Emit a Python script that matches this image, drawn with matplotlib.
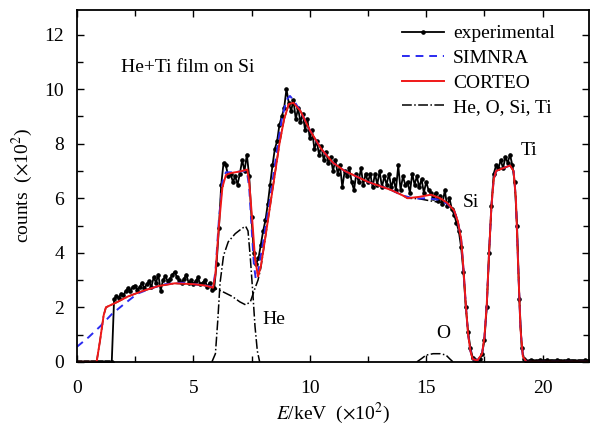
import numpy as np
import matplotlib
matplotlib.use('Agg')
import matplotlib.pyplot as plt
from matplotlib.ticker import MultipleLocator

plt.rcParams['font.family'] = ['Liberation Serif', 'DejaVu Serif']
plt.rcParams['mathtext.fontset'] = 'stix'

# experimental spectrum: channels every 0.1 (x10^2 keV), counts in x10^2
exp_energy = np.linspace(0, 22, 221)
exp_counts = (
    [0.0] * 16 +                                                   # 0.0 - 1.5
    [2.3, 2.4, 2.35, 2.5, 2.45, 2.6, 2.7, 2.6, 2.75, 2.8,            # 1.6 - 2.5
     2.65, 2.75, 2.9, 2.7, 2.85, 2.95, 2.75, 3.1, 2.9, 3.2,          # 2.6 - 3.5
     2.6, 3.0, 3.15, 2.95, 3.05, 3.2, 3.3, 3.1, 3.0, 2.9,            # 3.6 - 4.5
     3.05, 3.2, 2.9, 3.0, 2.85, 2.95, 3.1, 2.85, 2.9, 3.0,           # 4.6 - 5.5
     2.75, 2.9, 2.65, 2.7, 3.6, 4.9, 6.5, 7.3, 7.2, 6.8,             # 5.6 - 6.5
     6.9, 6.6, 6.8, 6.5, 6.9, 7.4, 7.0, 7.6, 6.8, 5.3,               # 6.6 - 7.5
     4.0, 3.6, 3.8, 4.3, 4.8, 5.2, 5.8, 6.5, 7.2, 7.8,               # 7.6 - 8.5
     8.1, 8.7, 9.0, 9.3, 10.0, 9.5, 9.2, 9.6, 8.9, 9.3,              # 8.6 - 9.5
     8.8, 9.1, 8.5, 8.9, 8.2, 8.5, 7.8, 8.1, 7.6, 7.9,               # 9.6 - 10.5
     7.4, 7.7, 7.3, 7.5, 7.0, 7.4, 6.9, 7.2, 6.4, 7.0,               # 10.6 - 11.5
     6.8, 7.1, 6.6, 6.3, 6.9, 6.6, 7.1, 6.5, 6.9, 6.6,               # 11.6 - 12.5
     6.9, 6.4, 6.9, 6.5, 7.0, 6.4, 6.8, 6.5, 6.9, 6.4,               # 12.6 - 13.5
     6.7, 6.3, 7.2, 6.3, 6.8, 6.5, 6.6, 6.2, 6.9, 6.5,               # 13.6 - 14.5
     6.8, 6.4, 6.7, 6.2, 6.6, 6.3, 6.2, 6.0, 6.2, 5.9,               # 14.6 - 15.5
     6.1, 5.8, 6.3, 5.7, 6.0, 5.6, 5.4, 5.1, 4.8, 4.2,               # 15.6 - 16.5
     3.3, 2.0, 1.1, 0.5, 0.15, 0.08, 0.05, 0.1, 0.3, 0.8,            # 16.6 - 17.5
     2.0, 4.0, 5.7, 6.9, 7.2, 7.1, 7.4, 7.1, 7.5, 7.3,               # 17.6 - 18.5
     7.6, 7.2, 6.6, 5.0, 2.3, 0.5, 0.12] +                           # 18.6 - 19.2
    [0.05, 0.03, 0.06, 0.04, 0.05, 0.03, 0.07, 0.04, 0.05, 0.06,     # 19.3 - 20.2
     0.04, 0.05, 0.03, 0.06, 0.05, 0.04, 0.05, 0.03, 0.06, 0.04,     # 20.3 - 21.2
     0.05, 0.04, 0.03, 0.05, 0.04, 0.06, 0.04, 0.05]                 # 21.3 - 22.0
)

# CORTEO simulation
corteo_e = [0, 0.85, 1.0, 1.15, 1.25, 1.7, 2.2, 2.76, 3.5, 4.2, 5.0, 5.5, 5.85,
            5.95, 6.1, 6.25, 6.4, 6.6, 7.0, 7.32, 7.4, 7.54, 7.65, 7.78, 7.9,
            8.1, 8.4, 8.7, 8.9, 9.1, 9.3, 9.6, 10.0, 10.5, 11.0, 11.5, 12.0,
            12.5, 13.0, 13.5, 14.0, 14.2, 14.7, 15.2, 15.6, 15.9, 16.2, 16.36,
            16.5, 16.6, 16.7, 16.8, 16.9, 17.0, 17.2, 17.4, 17.5, 17.6, 17.7,
            17.8, 17.9, 18.0, 18.3, 18.6, 18.75, 18.85, 18.95, 19.05, 19.15,
            19.3, 22]
corteo_y = [0, 0, 0.8, 1.7, 2.0, 2.18, 2.4, 2.58, 2.78, 2.88, 2.85, 2.8, 2.72,
            3.2, 5.0, 6.4, 6.85, 6.92, 6.98, 7.05, 6.6, 5.1, 3.8, 3.13, 3.5,
            4.6, 6.3, 8.0, 8.9, 9.45, 9.5, 9.2, 8.5, 7.8, 7.3, 7.0, 6.8,
            6.6, 6.45, 6.3, 6.1, 6.0, 6.05, 6.13, 6.0, 5.83, 5.55, 5.15,
            4.5, 3.4, 2.1, 1.0, 0.4, 0.1, 0.05, 0.3, 0.9, 2.1, 4.0,
            5.7, 6.7, 7.0, 7.1, 7.2, 7.0, 6.0, 3.5, 1.2, 0.2,
            0.0, 0.0]

# SIMNRA simulation
simnra_e = [0, 0.5, 1.0, 1.5, 2.0, 2.6, 3.2, 3.8, 4.5, 5.0, 5.5, 5.85, 5.95,
            6.1, 6.25, 6.4, 6.7, 7.0, 7.3, 7.4, 7.5, 7.6, 7.68, 7.8, 8.0, 8.3,
            8.6, 8.8, 9.0, 9.15, 9.3, 9.6, 10.0, 10.5, 11.0, 11.5, 12.0, 12.5,
            13.0, 13.5, 14.0, 14.5, 15.0, 15.5, 15.9, 16.2, 16.36, 16.5, 16.6,
            16.7, 16.8, 16.9, 17.0, 17.2, 17.4, 17.5, 17.6, 17.7, 17.8, 17.9,
            18.0, 18.3, 18.6, 18.75, 18.85, 18.95, 19.05, 19.15, 19.3, 22]
simnra_y = [0.55, 0.9, 1.3, 1.75, 2.1, 2.5, 2.7, 2.85, 2.9, 2.85, 2.8, 2.75, 3.3,
            5.2, 6.6, 6.95, 6.95, 6.98, 7.0, 6.4, 5.0, 3.6, 3.05, 3.4, 4.4, 6.0,
            7.8, 8.9, 9.6, 9.75, 9.6, 9.2, 8.5, 7.8, 7.3, 7.0, 6.8, 6.6,
            6.45, 6.3, 6.1, 5.98, 6.0, 5.95, 5.8, 5.55, 5.15, 4.5, 3.4,
            2.1, 1.0, 0.4, 0.1, 0.05, 0.3, 0.9, 2.1, 4.0, 5.7, 6.7,
            7.0, 7.1, 7.2, 7.0, 6.0, 3.5, 1.2, 0.2, 0.0, 0.0]

# element contributions
he_e = [5.8, 5.95, 6.05, 6.15, 6.3, 6.5, 6.8, 7.1, 7.25, 7.35, 7.45, 7.55,
        7.65, 7.75, 7.85]
he_y = [0, 0.3, 1.5, 2.9, 3.9, 4.4, 4.7, 4.9, 4.97, 4.8, 3.8, 2.6, 1.3, 0.4, 0]

o_e = [14.6, 14.8, 15.0, 15.3, 15.6, 15.85, 16.0, 16.15]
o_y = [0, 0.12, 0.25, 0.3, 0.3, 0.25, 0.12, 0]

si_e = [0.85, 1.0, 1.15, 1.25, 1.7, 2.2, 2.76, 3.5, 4.2, 5.0, 5.5, 5.85, 6.2,
        6.67, 7.0, 7.25, 7.45, 7.53, 7.65, 7.78, 7.9, 8.1, 8.4, 8.7, 8.9, 9.1,
        9.3, 9.6, 10.0, 10.5, 11.0, 11.5, 12.0, 12.5, 13.0, 13.5, 14.0, 14.2,
        14.7, 15.2, 15.6, 15.9, 16.2, 16.36, 16.5, 16.6, 16.7, 16.8, 16.9, 17.0]
si_y = [0, 0.8, 1.7, 2.0, 2.18, 2.4, 2.58, 2.78, 2.88, 2.85, 2.8, 2.72, 2.6,
        2.4, 2.2, 2.09, 2.2, 2.4, 2.7, 3.0, 3.45, 4.6, 6.3, 8.0, 8.9, 9.45,
        9.5, 9.2, 8.5, 7.8, 7.3, 7.0, 6.8, 6.6, 6.45, 6.3, 6.1, 6.0,
        5.98, 5.9, 5.85, 5.78, 5.55, 5.15, 4.5, 3.4, 2.1, 1.0, 0.4, 0.05]

ti_e = [17.0, 17.2, 17.4, 17.5, 17.6, 17.7, 17.8, 17.9, 18.0, 18.3, 18.6,
        18.75, 18.85, 18.95, 19.05, 19.15, 19.3]
ti_y = [0.0, 0.05, 0.3, 0.9, 2.1, 4.0, 5.7, 6.7, 7.0, 7.1, 7.2, 7.0, 6.0, 3.5,
        1.2, 0.2, 0.0]

fs = 14
fig = plt.figure(figsize=(5.91, 4.36), dpi=100)
ax = fig.add_axes([0.130, 0.170, 0.867, 0.807])

dd = dict(color='black', linestyle='-.', linewidth=1.1)
ax.plot(he_e, he_y, **dd, label='He, O, Si, Ti')
ax.plot(o_e, o_y, **dd)
ax.plot(si_e, si_y, **dd)
ax.plot(ti_e, ti_y, **dd)

ax.plot(exp_energy, exp_counts, color='black', linewidth=1.3, marker='o',
        markersize=2.3, label='experimental')
ax.plot(simnra_e, simnra_y, color='#2b2bf0', linestyle=(0, (4, 3)),
        linewidth=1.4, label='SIMNRA')
ax.plot(corteo_e, corteo_y, color='#f01818', linewidth=1.4, label='CORTEO')

ax.set_xlim(0, 22)
ax.set_ylim(0, 12.9)
ax.xaxis.set_major_locator(MultipleLocator(5))
ax.xaxis.set_minor_locator(MultipleLocator(2.5))
ax.yaxis.set_major_locator(MultipleLocator(2))
ax.yaxis.set_minor_locator(MultipleLocator(1))
ax.tick_params(which='both', direction='in', top=True, right=True,
               labelsize=fs, width=1.0)
ax.tick_params(which='major', length=5)
ax.tick_params(which='minor', length=4)
ax.tick_params(axis='x', which='major', pad=13)
ax.tick_params(axis='y', which='major', pad=9)
for s in ax.spines.values():
    s.set_linewidth(1.3)

ax.set_xlabel(r'$E$/keV  ($\times$10$^2$)', fontsize=fs, labelpad=3)
ax.set_ylabel(r'counts  ($\times$10$^2$)', fontsize=fs, labelpad=7)

ax.text(1.9, 10.8, 'He+Ti film on Si', fontsize=fs, va='center')
ax.text(19.05, 7.75, 'Ti', fontsize=fs, va='center')
ax.text(16.55, 5.85, 'Si', fontsize=fs, va='center')
ax.text(7.95, 1.55, 'He', fontsize=fs, va='center')
ax.text(15.45, 1.05, 'O', fontsize=fs, va='center')

h, l = ax.get_legend_handles_labels()
order = [1, 2, 3, 0]
ax.legend([h[i] for i in order], [l[i] for i in order], loc='upper left',
          bbox_to_anchor=(0.635, 0.958), frameon=False, fontsize=fs,
          handlelength=2.15, handletextpad=0.45, labelspacing=0.36,
          borderpad=0, borderaxespad=0)

fig.savefig('out.png', dpi=100)
